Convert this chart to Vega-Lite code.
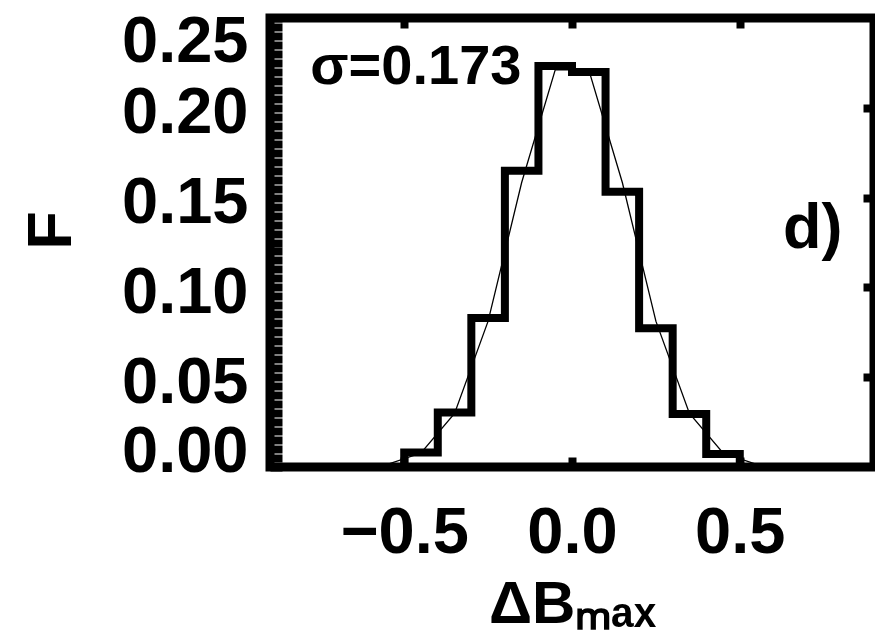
{
  "$schema": "https://vega.github.io/schema/vega-lite/v6.json",
  "width": 604,
  "height": 449,
  "autosize": {"type": "none"},
  "padding": {"left": 270, "top": 18, "right": 1, "bottom": 175},
  "background": "white",
  "config": {
    "view": {"stroke": "black", "strokeWidth": 9},
    "font": "Liberation Sans",
    "axis": {
      "grid": false,
      "domain": false,
      "labelFont": "Liberation Sans",
      "labelFontWeight": "bold",
      "labelFontSize": 65,
      "labelColor": "black",
      "titleFont": "Liberation Sans",
      "titleFontWeight": "bold",
      "titleColor": "black",
      "tickColor": "black",
      "tickWidth": 8
    }
  },
  "datasets": {
    "hist": [
      {"x": -0.6, "F": 0},
      {"x": -0.5, "F": 0.0081},
      {"x": -0.4, "F": 0.0303},
      {"x": -0.3, "F": 0.083},
      {"x": -0.2, "F": 0.165},
      {"x": -0.1, "F": 0.2233},
      {"x": 0.0, "F": 0.2199},
      {"x": 0.1, "F": 0.1533},
      {"x": 0.2, "F": 0.0773},
      {"x": 0.3, "F": 0.0295},
      {"x": 0.4, "F": 0.0072},
      {"x": 0.5, "F": 0},
      {"x": 0.6, "F": 0}
    ],
    "fit": [
      {"x": -0.55, "F": 0.0015},
      {"x": -0.45, "F": 0.0078},
      {"x": -0.35, "F": 0.0298},
      {"x": -0.25, "F": 0.0812},
      {"x": -0.15, "F": 0.1584},
      {"x": -0.05, "F": 0.2211},
      {"x": 0.05, "F": 0.2211},
      {"x": 0.15, "F": 0.1584},
      {"x": 0.25, "F": 0.0812},
      {"x": 0.35, "F": 0.0298},
      {"x": 0.45, "F": 0.0078},
      {"x": 0.55, "F": 0.0015}
    ]
  },
  "resolve": {"axis": {"x": "independent", "y": "independent"}},
  "layer": [
    {
      "data": {"name": "hist"},
      "mark": {"type": "line", "interpolate": "step-after", "color": "black", "strokeWidth": 8, "strokeJoin": "miter", "strokeCap": "square"},
      "encoding": {
        "x": {
          "field": "x", "type": "quantitative",
          "scale": {"domain": [-0.9, 0.9], "nice": false, "zero": false},
          "axis": {
            "orient": "bottom",
            "values": [-0.5, 0, 0.5],
            "format": ".1f",
            "title": "ΔBₘₐₓ",
            "titleFontSize": 60,
            "titlePadding": 10,
            "tickSize": -10,
            "labelPadding": 44,
            "labelFlush": false
          }
        },
        "y": {
          "field": "F", "type": "quantitative",
          "scale": {"domain": [0, 0.25], "nice": false},
          "axis": {
            "orient": "left",
            "title": "F",
            "titleFontSize": 63,
            "titlePadding": 38,
            "titleY": 212,
            "tickCount": 50,
            "tickSize": -12,
            "labelExpr": "abs(datum.value*20-round(datum.value*20))<0.000001 ? format(datum.value,'.2f') : ''",
            "labelOverlap": false,
            "labelFlush": true,
            "labelFlushOffset": 13,
            "labelOffset": 5,
            "labelPadding": 34,
            "encode": {"ticks": {
              "x2": {"signal": "abs(datum.value*20-round(datum.value*20))<0.000001 ? 12 : 7"},
              "strokeWidth": {"signal": "abs(datum.value*20-round(datum.value*20))<0.000001 ? 8 : 3"}
            }}
          }
        }
      }
    },
    {
      "data": {"name": "fit"},
      "mark": {"type": "line", "color": "black", "strokeWidth": 1.3},
      "encoding": {
        "x": {
          "field": "x", "type": "quantitative",
          "axis": {
            "orient": "top",
            "values": [-0.5, 0, 0.5],
            "labels": false,
            "title": null,
            "tickSize": -10
          }
        },
        "y": {
          "field": "F", "type": "quantitative",
          "axis": {
            "orient": "right",
            "values": [0.05, 0.1, 0.15, 0.2],
            "labels": false,
            "title": null,
            "tickSize": -11
          }
        }
      }
    },
    {
      "data": {"values": [{"note": "σ=0.173"}]},
      "mark": {"type": "text", "align": "left", "baseline": "alphabetic", "fontSize": 56, "fontWeight": "bold", "font": "Liberation Sans", "color": "black"},
      "encoding": {
        "x": {"datum": -0.78, "type": "quantitative", "axis": null},
        "y": {"datum": 0.213, "type": "quantitative", "axis": null},
        "text": {"field": "note"}
      }
    },
    {
      "data": {"values": [{"note": "d)"}]},
      "mark": {"type": "text", "align": "left", "baseline": "alphabetic", "fontSize": 63, "fontWeight": "bold", "font": "Liberation Sans", "color": "black"},
      "encoding": {
        "x": {"datum": 0.629, "type": "quantitative", "axis": null},
        "y": {"datum": 0.1219, "type": "quantitative", "axis": null},
        "text": {"field": "note"}
      }
    }
  ]
}
